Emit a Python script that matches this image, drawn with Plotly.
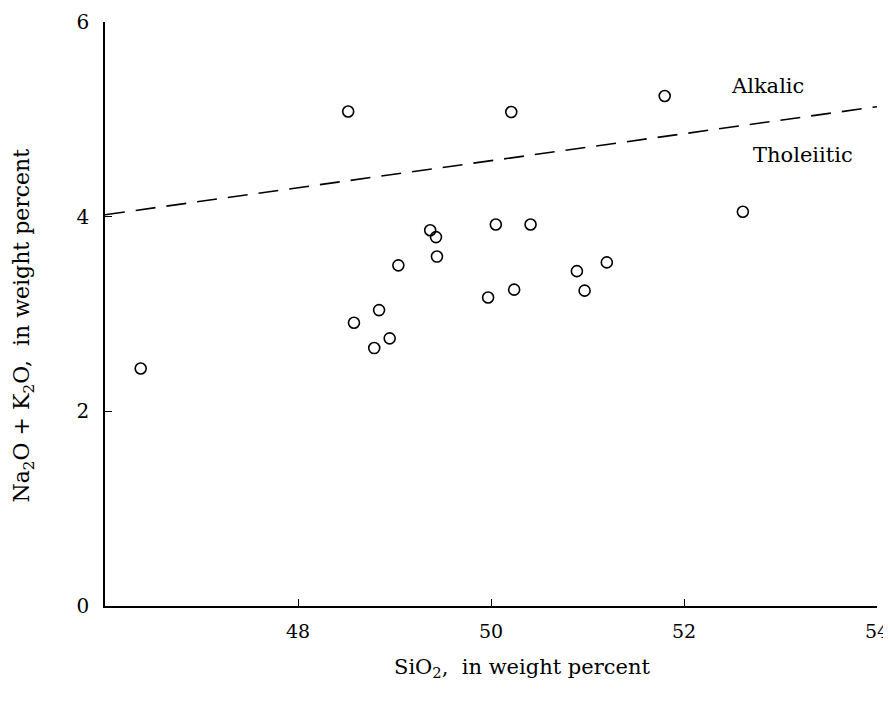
import plotly.graph_objects as go

# Data
sio2 = [46.37, 48.52, 48.58, 48.84, 48.79, 48.95, 49.04, 49.37, 49.43, 49.44,
        50.05, 50.41, 49.97, 50.24, 50.21, 50.89, 51.20, 50.97, 51.80, 52.61]
alkali = [2.44, 5.08, 2.91, 3.04, 2.65, 2.75, 3.50, 3.86, 3.79, 3.59,
          3.92, 3.92, 3.17, 3.25, 5.075, 3.44, 3.53, 3.24, 5.24, 4.05]

divider_x = [46, 54]
divider_y = [4.02, 5.13]

x_ticks = [48, 50, 52, 54]
x_tick_labels = ["48", "50", "52", "54"]
y_ticks = [0, 2, 4, 6]
y_tick_labels = ["0", "2", "4", "6"]

FONT = "DejaVu Serif"

fig = go.Figure()
fig.add_trace(go.Scatter(
    x=divider_x, y=divider_y, mode="lines",
    line=dict(color="black", width=1.6, dash="20px,11px"),
    showlegend=False, hoverinfo="skip"))
fig.add_trace(go.Scatter(
    x=sio2, y=alkali, mode="markers",
    marker=dict(symbol="circle-open", size=11, color="black",
                line=dict(width=1.6, color="black")),
    showlegend=False))

fig.update_layout(
    width=883, height=680,
    margin=dict(l=97, r=14, t=14, b=82),
    paper_bgcolor="white", plot_bgcolor="white",
    font=dict(family=FONT, size=20, color="black"),
    xaxis=dict(range=[46, 54], tickvals=x_ticks, ticktext=x_tick_labels,
               showline=True, linecolor="black", linewidth=1.6, automargin=False,
               ticks="inside", ticklen=7, tickwidth=1.4, tickcolor="black",
               showgrid=False, zeroline=False, ticklabelstandoff=7,
               ticklabeloverflow="allow",
               tickfont=dict(family=FONT, size=19)),
    yaxis=dict(range=[0, 6], tickvals=y_ticks, ticktext=y_tick_labels,
               showline=True, linecolor="black", linewidth=1.6, automargin=False,
               ticks="inside", ticklen=7, tickwidth=1.4, tickcolor="black",
               showgrid=False, zeroline=False, ticklabelstandoff=10,
               ticklabeloverflow="allow",
               tickfont=dict(family=FONT, size=20)),
    annotations=[
        dict(text="Alkalic", x=52.87, y=5.34, xref="x", yref="y",
             showarrow=False, font=dict(family=FONT, size=21)),
        dict(text="Tholeiitic", x=53.23, y=4.63, xref="x", yref="y",
             showarrow=False, font=dict(family=FONT, size=21)),
        dict(text="SiO<sub>2</sub>,  in weight percent", x=0.54, y=-0.08,
             xref="paper", yref="paper", xanchor="center", yanchor="top",
             showarrow=False, font=dict(family=FONT, size=21)),
        dict(text="Na<sub>2</sub>O + K<sub>2</sub>O,  in weight percent",
             x=-0.105, y=0.48, xref="paper", yref="paper", textangle=-90,
             xanchor="center", yanchor="middle",
             showarrow=False, font=dict(family=FONT, size=22)),
    ],
)

fig.write_html("out.html")
